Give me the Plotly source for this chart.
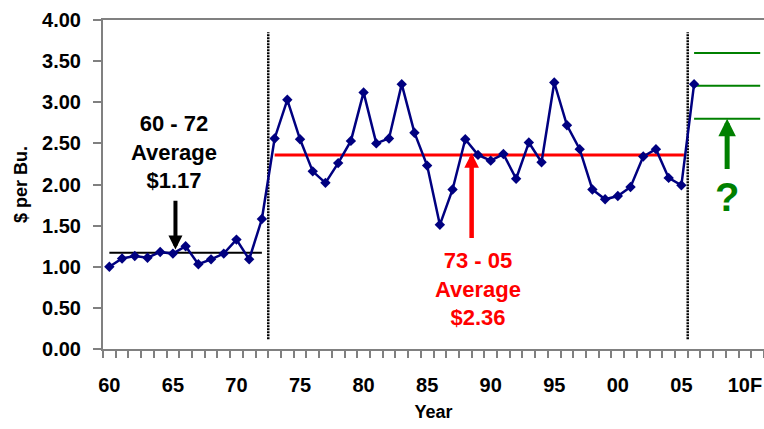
import plotly.graph_objects as go

# ---- data ----
years = list(range(1960, 2007))
prices = [1.00, 1.10, 1.13, 1.11, 1.18, 1.16, 1.25, 1.03, 1.09, 1.16, 1.33, 1.09, 1.58,
          2.56, 3.03, 2.55, 2.16, 2.02, 2.26, 2.53, 3.12, 2.50, 2.56, 3.22, 2.63, 2.23,
          1.51, 1.94, 2.55, 2.36, 2.29, 2.37, 2.07, 2.51, 2.27, 3.24, 2.72, 2.43, 1.94,
          1.82, 1.86, 1.97, 2.34, 2.43, 2.08, 1.99, 3.22]

avg_early_years = [1960, 1972]
avg_early = 1.17
avg_late_years = [1973, 2005.2]
avg_late = 2.36

divider_years = [1972.5, 2005.5]
divider_span = [0.12, 3.85]

forecast_years = [2006, 2011.2]
forecast_levels = [2.80, 3.20, 3.60]

tick_years = [1960, 1965, 1970, 1975, 1980, 1985, 1990, 1995, 2000, 2005, 2010]
tick_text = ["60", "65", "70", "75", "80", "85", "90", "95", "00", "05", "10F"]

NAVY = "#000080"
RED = "#FF0000"
GREEN = "#008000"
GRAY = "#808080"
FONT = "Liberation Sans, Arial, sans-serif"

fig = go.Figure()

# vertical dividers
for dx in divider_years:
    fig.add_trace(go.Scatter(x=[dx, dx], y=divider_span, mode="lines",
                             line=dict(color="black", width=2.5, dash="2px,1px"),
                             hoverinfo="skip", showlegend=False))

# averages
fig.add_trace(go.Scatter(x=avg_early_years, y=[avg_early, avg_early], mode="lines",
                         line=dict(color="black", width=2), showlegend=False))
fig.add_trace(go.Scatter(x=avg_late_years, y=[avg_late, avg_late], mode="lines",
                         line=dict(color=RED, width=3), showlegend=False))

# forecast levels
for lv in forecast_levels:
    fig.add_trace(go.Scatter(x=forecast_years, y=[lv, lv], mode="lines",
                             line=dict(color=GREEN, width=2), showlegend=False))

# price series
fig.add_trace(go.Scatter(x=years, y=prices, mode="lines+markers",
                         line=dict(color=NAVY, width=2.5),
                         marker=dict(symbol="diamond", size=8, color=NAVY),
                         showlegend=False))

# text annotations
fig.add_annotation(x=1965.1, y=2.40, xref="x", yref="y",
                   text="60 - 72<br>Average<br>$1.17", showarrow=False,
                   font=dict(family=FONT, size=22, color="black", weight="bold"),
                   align="center", yanchor="middle")
fig.add_annotation(x=1989.0, y=0.73, xref="x", yref="y",
                   text="73 - 05<br>Average<br>$2.36", showarrow=False,
                   font=dict(family=FONT, size=22, color=RED, weight="bold"),
                   align="center", yanchor="middle")
fig.add_annotation(x=2008.6, y=1.85, xref="x", yref="y",
                   text="?", showarrow=False,
                   font=dict(family=FONT, size=40, color=GREEN, weight="bold"),
                   yanchor="middle")

# arrows
fig.add_annotation(x=1965.2, y=1.21, ax=1965.2, ay=1.82, xref="x", yref="y",
                   axref="x", ayref="y", text="", showarrow=True,
                   arrowhead=2, arrowwidth=4, arrowsize=0.7, arrowcolor="black")
fig.add_annotation(x=1988.5, y=2.38, ax=1988.5, ay=1.33, xref="x", yref="y",
                   axref="x", ayref="y", text="", showarrow=True,
                   arrowhead=2, arrowwidth=4.5, arrowsize=0.65, arrowcolor=RED)
fig.add_annotation(x=2008.6, y=2.80, ax=2008.6, ay=2.17, xref="x", yref="y",
                   axref="x", ayref="y", text="", showarrow=True,
                   arrowhead=2, arrowwidth=5, arrowsize=0.7, arrowcolor=GREEN)

fig.update_layout(
    width=764, height=429,
    margin=dict(l=103, r=0, t=20, b=80),
    paper_bgcolor="white", plot_bgcolor="white",
    font=dict(family=FONT, color="black"),
    showlegend=False,
)
fig.update_xaxes(
    range=[1959.5, 2011.5],
    tickmode="array", tickvals=tick_years, ticktext=tick_text,
    ticks="", showgrid=False, zeroline=False,
    showline=True, linecolor=GRAY, linewidth=2, mirror=True,
    tickfont=dict(family=FONT, size=20, color="black", weight="bold"),
    ticklabelstandoff=17,
    minor=dict(ticks="outside", tick0=1959.5, dtick=1, ticklen=7,
               tickcolor=GRAY, tickwidth=1.5, showgrid=False),
    title=dict(text="Year", font=dict(family=FONT, size=18, color="black", weight="bold"),
               standoff=10),
)
fig.update_yaxes(
    range=[0, 4], tickmode="array",
    tickvals=[0, 0.5, 1, 1.5, 2, 2.5, 3, 3.5, 4], tickformat=".2f",
    ticks="outside", ticklen=8, tickcolor=GRAY, tickwidth=1.5,
    showgrid=False, zeroline=False,
    showline=True, linecolor=GRAY, linewidth=2,
    tickfont=dict(family=FONT, size=20, color="black", weight="bold"),
    ticklabelstandoff=8,
    title=dict(text="$ per Bu.", font=dict(family=FONT, size=18, color="black", weight="bold"),
               standoff=10),
)

fig.write_html("out.html", config={"displayModeBar": False},
               post_script="document.body.style.margin='0';document.body.style.overflow='hidden';")
